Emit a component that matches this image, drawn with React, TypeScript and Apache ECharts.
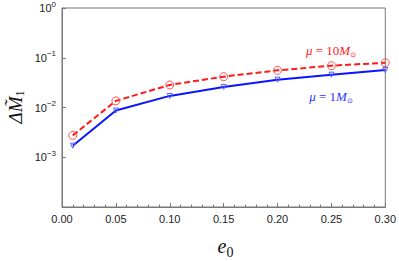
import React, { useEffect, useRef } from "react";
import * as echarts from "echarts";

const eValues = [0.01, 0.05, 0.1, 0.15, 0.2, 0.25, 0.3];
const mu10 = [0.00275, 0.0136, 0.0284, 0.0417, 0.0558, 0.0692, 0.0794];
const mu1 = [0.00171, 0.0087, 0.0171, 0.0259, 0.0363, 0.0457, 0.0567];
const mu10Mass = "10";
const mu1Mass = "1";

const SERIF = "'Liberation Serif', 'DejaVu Serif', serif";

function muRich(color: string) {
  return {
    it: { fontStyle: "italic", fontFamily: SERIF, fontSize: 13, fill: color, lineHeight: 16 },
    up: { fontFamily: SERIF, fontSize: 13, fill: color, lineHeight: 16 },
    s: { fontFamily: "'DejaVu Sans', sans-serif", fontSize: 7, fill: color, lineHeight: 16, verticalAlign: "bottom" },
  };
}

export default function App() {
  const ref = useRef<HTMLDivElement>(null);
  useEffect(() => {
    const chart = echarts.init(ref.current!, null, { renderer: "svg" });
    chart.setOption({
      animation: false,
      grid: {
        left: 62,
        right: 11,
        top: 6,
        bottom: 54,
        show: true,
        borderColor: "#777",
        borderWidth: 1,
        backgroundColor: "transparent",
      },
      xAxis: {
        type: "value",
        min: 0,
        max: 0.3,
        interval: 0.05,
        axisLine: { lineStyle: { color: "#777" } },
        axisTick: { inside: true, length: 4, lineStyle: { color: "#777" } },
        minorTick: { show: true, splitNumber: 5, length: 2.5, lineStyle: { color: "#777" } },
        splitLine: { show: false },
        axisLabel: {
          formatter: (v: number) => v.toFixed(2),
          color: "#222",
          fontSize: 11,
          fontFamily: "Liberation Sans, Arial, sans-serif",
          margin: 6,
        },
      },
      yAxis: {
        type: "log",
        logBase: 10,
        min: 1e-4,
        max: 1,
        axisLine: { lineStyle: { color: "#777" } },
        axisTick: { inside: true, length: 4, lineStyle: { color: "#777" } },
        splitLine: { show: false },
        axisLabel: {
          formatter: (v: number) => {
            const e = Math.round(Math.log10(v));
            if (e <= -4) return "";
            return "10{sup|" + (e === 0 ? "0" : "−" + Math.abs(e)) + "}";
          },
          color: "#222",
          fontSize: 11,
          fontFamily: "Liberation Sans, Arial, sans-serif",
          margin: 6,
          rich: {
            sup: {
              fontSize: 8,
              verticalAlign: "top",
              padding: [0, 0, 8, 0],
              color: "#222",
              fontFamily: "Liberation Sans, Arial, sans-serif",
            },
          },
        },
      },
      series: [
        {
          type: "line",
          data: eValues.map((x, i) => [x, mu10[i]]),
          lineStyle: { color: "#ff1a1a", width: 2, type: [6, 3] },
          symbol: "circle",
          symbolSize: 8,
          showAllSymbol: true,
          itemStyle: { color: "transparent", borderColor: "#ff5050", borderWidth: 1 },
          z: 3,
        },
        {
          type: "line",
          data: eValues.map((x, i) => [x, mu1[i]]),
          lineStyle: { color: "#0a14ff", width: 2 },
          symbol: "triangle",
          symbolRotate: 180,
          symbolSize: 5,
          showAllSymbol: true,
          itemStyle: { color: "transparent", borderColor: "#5560ff", borderWidth: 1 },
          z: 2,
        },
      ],
      graphic: [
        {
          type: "text",
          x: 331,
          y: 50,
          style: {
            text: "{it|μ}{up| = " + mu10Mass + "}{it|M}{s|⊙}",
            rich: muRich("#ff2020"),
            fill: "#ff2020",
            align: "center",
            verticalAlign: "middle",
          },
        },
        {
          type: "text",
          x: 331,
          y: 96,
          style: {
            text: "{it|μ}{up| = " + mu1Mass + "}{it|M}{s|⊙}",
            rich: muRich("#2a35ff"),
            fill: "#2a35ff",
            align: "center",
            verticalAlign: "middle",
          },
        },
        {
          type: "text",
          x: 222,
          y: 246,
          style: {
            text: "e",
            fill: "#111",
            font: "italic 20px " + SERIF,
            align: "center",
            verticalAlign: "middle",
          },
        },
        {
          type: "text",
          x: 230,
          y: 252,
          style: {
            text: "0",
            fill: "#111",
            font: "14px " + SERIF,
            align: "center",
            verticalAlign: "middle",
          },
        },
        {
          type: "text",
          x: 15,
          y: 107,
          rotation: Math.PI / 2,
          style: {
            text: "{m|ΔM\u0303}{s|1}",
            align: "center",
            verticalAlign: "middle",
            fill: "#111",
            rich: {
              m: { fontStyle: "italic", fontFamily: SERIF, fontSize: 19, fill: "#111", lineHeight: 22 },
              s: { fontFamily: SERIF, fontSize: 12, fill: "#111", lineHeight: 22, verticalAlign: "bottom" },
            },
          },
        },
      ],
    });
    return () => chart.dispose();
  }, []);
  return <div ref={ref} style={{ width: 399, height: 261, position: "absolute", left: 0, top: 0 }} />;
}
